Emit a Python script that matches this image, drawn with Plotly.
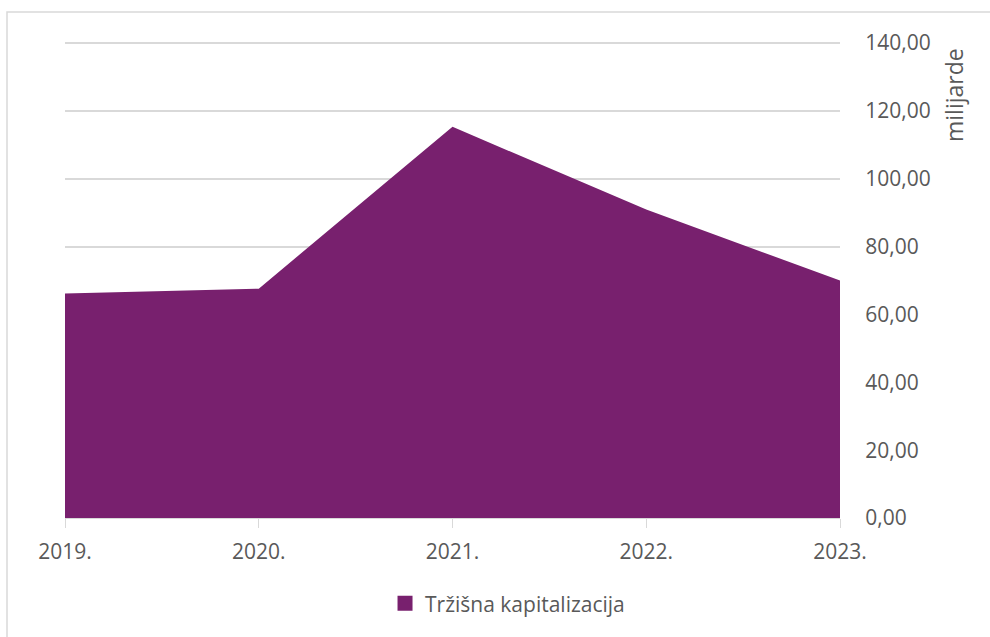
import plotly.graph_objects as go

years = ["2019.", "2020.", "2021.", "2022.", "2023."]
values = [66.2, 67.6, 115.3, 90.9, 70.0]
series_name = "Tržišna kapitalizacija"
y_ticks = [0, 20, 40, 60, 80, 100, 120, 140]
y_tick_labels = ["0,00", "20,00", "40,00", "60,00", "80,00", "100,00", "120,00", "140,00"]

color = "#78206E"
text_color = "#595959"
grid_color = "#D9D9D9"
font_family = "Open Sans, Liberation Sans, sans-serif"

fig = go.Figure()
fig.add_trace(go.Scatter(
    x=years, y=values, mode="none", fill="tozeroy",
    fillcolor=color, showlegend=False, hoverinfo="skip"))
fig.add_trace(go.Scatter(
    x=[None], y=[None], mode="markers", name=series_name,
    marker=dict(symbol="square", size=15, color=color)))

W, H = 990, 637
ml, mr, mt, mb = 65, 150, 42, 119
pw = W - ml - mr
ph = H - mt - mb

fig.update_layout(
    width=W, height=H,
    margin=dict(l=ml, r=mr, t=mt, b=mb),
    paper_bgcolor="white", plot_bgcolor="white",
    font=dict(family=font_family, size=21, color=text_color),
    xaxis=dict(type="category", range=[0, 4], showgrid=False,
               showline=True, linecolor=grid_color, linewidth=1,
               ticks="outside", ticklen=9, tickcolor=grid_color,
               ticklabelstandoff=6,
               tickfont=dict(size=21, color=text_color), zeroline=False),
    yaxis=dict(side="right", range=[0, 140.3], tickvals=y_ticks, ticktext=y_tick_labels,
               showgrid=True, gridcolor=grid_color, gridwidth=1.5, zeroline=False,
               ticks="outside", ticklen=20, tickcolor="rgba(0,0,0,0)",
               tickfont=dict(size=21, color=text_color)),
    legend=dict(orientation="h", x=0.571, xanchor="center", y=-0.18, yanchor="middle",
                font=dict(size=21, color=text_color), itemwidth=30),
    showlegend=True,
)

fig.add_annotation(text="milijarde", xref="paper", yref="paper",
                   x=(954 - ml) / pw, y=1 - (95 - mt) / ph,
                   textangle=-90, showarrow=False,
                   font=dict(size=23, color=text_color),
                   xanchor="center", yanchor="middle")

fig.add_shape(type="rect", xref="paper", yref="paper",
              x0=(7 - ml) / pw, x1=(1000 - ml) / pw,
              y0=-(H + 10 - mt - ph) / ph, y1=1 + (mt - 12) / ph,
              line=dict(color=grid_color, width=1.5), layer="below")

fig.write_html("out.html", config={"displayModeBar": False},
               post_script="document.body.style.margin='0';")
